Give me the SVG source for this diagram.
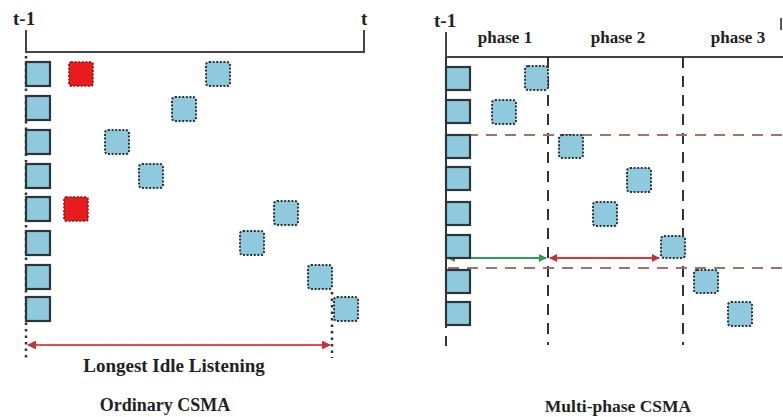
<svg xmlns="http://www.w3.org/2000/svg" width="783" height="417" viewBox="0 0 783 417">
<defs>
<style>
.lbl{font-family:"Liberation Serif","Times New Roman",serif;font-weight:bold;fill:#222}
.sq{fill:#8fc9dd;stroke:#2a3638;stroke-width:2.2}
.dq{fill:#8fc9dd;stroke:#2a3638;stroke-width:2;stroke-dasharray:2 1.6}
.rq{fill:#e81c1c;stroke:#8a1010;stroke-width:1.6;stroke-dasharray:2 1.6}
.ax{stroke:#444;stroke-width:2;fill:none}
.vd{stroke:#333;stroke-width:2;stroke-dasharray:11 8;fill:none}
.hd{stroke:#a07272;stroke-width:2;stroke-dasharray:11 8;fill:none}
.dot{stroke:#333;stroke-width:2.5;stroke-dasharray:2.5 4;fill:none}
</style>
<marker id="ar" viewBox="0 0 10 10" refX="9" refY="5" markerWidth="4" markerHeight="4" orient="auto-start-reverse"><path d="M0,0 L10,5 L0,10 z" fill="#c83030"/></marker>
<marker id="ag" viewBox="0 0 10 10" refX="9" refY="5" markerWidth="4" markerHeight="4" orient="auto-start-reverse"><path d="M0,0 L10,5 L0,10 z" fill="#2e9a55"/></marker>
</defs>

<g id="left-axis">
<text class="lbl" x="13" y="25" font-size="19">t-1</text>
<text class="lbl" x="361" y="25" font-size="19">t</text>
<path class="ax" d="M26,30 V52 H364 V30"/>
</g>

<g id="connectors">
<path class="dot" d="M26,56 V358"/>
<path class="dot" d="M332,292 V358"/>
<line x1="28" y1="345" x2="330" y2="345" stroke="#d85050" stroke-width="2.2" marker-start="url(#ar)" marker-end="url(#ar)"/>
<path class="ax" d="M446,32 V57 H783"/>
<path d="M446,57 V328" stroke="#333" stroke-width="2"/>
<path d="M446,336 V346" stroke="#333" stroke-width="2"/>
<path d="M781,18 V30" stroke="#555" stroke-width="2"/>
<path class="vd" d="M548,57 V345"/>
<path class="vd" d="M683,57 V345"/>
<path class="hd" d="M448,135 H783"/>
<path class="hd" d="M448,268 H783"/>
<line x1="448" y1="258" x2="546" y2="258" stroke="#2e9a55" stroke-width="2" marker-start="url(#ag)" marker-end="url(#ag)"/>
<line x1="550" y1="258" x2="659" y2="258" stroke="#d83a3a" stroke-width="2" marker-start="url(#ar)" marker-end="url(#ar)"/>
</g>

<g id="left-nodes">
<rect class="sq" x="26" y="62" width="24" height="24"/>
<rect class="sq" x="26" y="96" width="24" height="24"/>
<rect class="sq" x="26" y="130" width="24" height="24"/>
<rect class="sq" x="26" y="164" width="24" height="24"/>
<rect class="sq" x="26" y="197" width="24" height="24"/>
<rect class="sq" x="26" y="231" width="24" height="24"/>
<rect class="sq" x="26" y="265" width="24" height="24"/>
<rect class="sq" x="26" y="297" width="24" height="24"/>
</g>
<g id="left-packets">
<rect class="rq" x="69" y="62" width="24" height="24" rx="2"/>
<rect class="rq" x="64" y="197" width="24" height="24" rx="2"/>
<rect class="dq" x="206" y="62" width="24" height="24" rx="3"/>
<rect class="dq" x="172" y="97" width="24" height="24" rx="3"/>
<rect class="dq" x="105" y="130" width="24" height="24" rx="3"/>
<rect class="dq" x="139" y="164" width="24" height="24" rx="3"/>
<rect class="dq" x="274" y="201" width="24" height="24" rx="3"/>
<rect class="dq" x="240" y="231" width="24" height="24" rx="3"/>
<rect class="dq" x="308" y="265" width="24" height="24" rx="3"/>
<rect class="dq" x="334" y="297" width="24" height="24" rx="3"/>
</g>
<g id="left-labels">
<text class="lbl" x="174" y="372" font-size="19" text-anchor="middle">Longest Idle Listening</text>
<text class="lbl" x="165" y="411" font-size="18" text-anchor="middle">Ordinary CSMA</text>
</g>

<g id="right-axis">
<text class="lbl" x="434" y="27" font-size="19">t-1</text>
<text class="lbl" x="505" y="43" font-size="17" text-anchor="middle">phase 1</text>
<text class="lbl" x="618" y="43" font-size="17" text-anchor="middle">phase 2</text>
<text class="lbl" x="738" y="43" font-size="17" text-anchor="middle">phase 3</text>
</g>
<g id="right-nodes">
<rect class="sq" x="446" y="67" width="24" height="23"/>
<rect class="sq" x="446" y="100" width="24" height="23"/>
<rect class="sq" x="446" y="135" width="24" height="23"/>
<rect class="sq" x="446" y="167" width="24" height="23"/>
<rect class="sq" x="446" y="202" width="24" height="23"/>
<rect class="sq" x="446" y="235" width="24" height="23"/>
<rect class="sq" x="446" y="270" width="24" height="23"/>
<rect class="sq" x="446" y="302" width="24" height="23"/>
</g>
<g id="right-packets">
<rect class="dq" x="525" y="66" width="23" height="24" rx="3"/>
<rect class="dq" x="492" y="100" width="24" height="24" rx="3"/>
<rect class="dq" x="559" y="135" width="24" height="23" rx="3"/>
<rect class="dq" x="627" y="168" width="24" height="24" rx="3"/>
<rect class="dq" x="593" y="202" width="24" height="24" rx="3"/>
<rect class="dq" x="661" y="236" width="24" height="22" rx="3"/>
<rect class="dq" x="694" y="270" width="24" height="23" rx="3"/>
<rect class="dq" x="728" y="302" width="24" height="24" rx="3"/>
</g>
<g id="right-labels">
<text class="lbl" x="618" y="412" font-size="17.5" text-anchor="middle">Multi-phase CSMA</text>
</g>
</svg>
